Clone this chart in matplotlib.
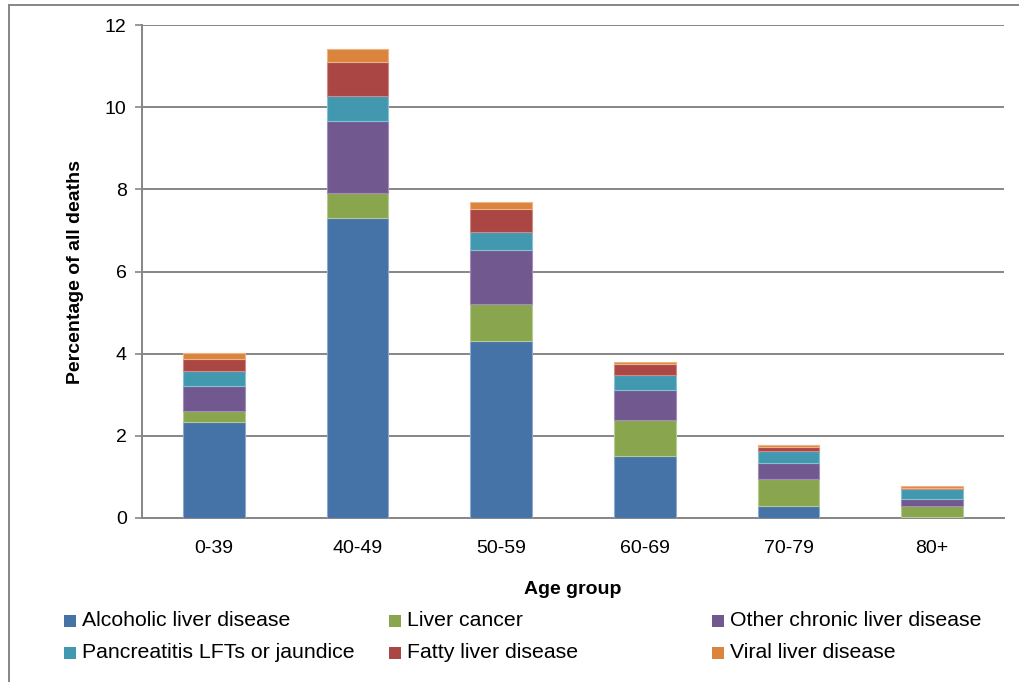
import matplotlib
matplotlib.use("Agg")
import matplotlib.pyplot as plt
from matplotlib.lines import Line2D
from matplotlib.patches import Rectangle
import numpy as np

plt.rcParams['font.family'] = ['Liberation Sans', 'DejaVu Sans']

categories = ["0-39", "40-49", "50-59", "60-69", "70-79", "80+"]
series_names = ["Alcoholic liver disease", "Liver cancer", "Other chronic liver disease",
                "Pancreatitis LFTs or jaundice", "Fatty liver disease", "Viral liver disease"]
alcoholic = [2.34, 7.30, 4.31, 1.52, 0.28, 0.02]
liver_cancer = [0.26, 0.61, 0.90, 0.87, 0.67, 0.27]
other_chronic = [0.62, 1.75, 1.31, 0.73, 0.39, 0.17]
pancreatitis = [0.35, 0.62, 0.43, 0.37, 0.30, 0.25]
fatty = [0.31, 0.83, 0.56, 0.27, 0.10, 0.03]
viral = [0.13, 0.31, 0.18, 0.04, 0.04, 0.04]
series = [alcoholic, liver_cancer, other_chronic, pancreatitis, fatty, viral]
colors = ["#4572A7", "#89A54E", "#71588F", "#4198AF", "#AA4643", "#DB843D"]
edges = ["#8EA8CE", "#B5CB92", "#A18FBA", "#86C2D2", "#D08A88", "#EDB487"]
yticks = [0, 2, 4, 6, 8, 10, 12]

W, H = 1019, 682
fig = plt.figure(figsize=(W/100, H/100), dpi=100)
ax = fig.add_axes([142/W, 1-518/H, (1004-142)/W, (518-25)/H])

x = np.arange(len(categories))
bottom = np.zeros(len(categories))
for vals, c, ec, name in zip(series, colors, edges, series_names):
    ax.bar(x, vals, width=0.43, bottom=bottom, color=c, edgecolor=ec, linewidth=0.8,
           label=name, zorder=3)
    bottom += np.array(vals)

ax.set_xlim(-0.5, len(categories) - 0.5)
ax.set_ylim(0, 12)
ax.set_yticks(yticks)
ax.set_yticklabels([str(t) for t in yticks], fontsize=14)
ax.set_xticks(x)
ax.set_xticklabels(categories, fontsize=14)
ax.tick_params(axis='x', length=0, pad=16)
ax.tick_params(axis='y', length=5, width=1.2, color='#868686', pad=6)
ax.grid(axis='y', color='#868686', linewidth=1.4, zorder=0)
for s in ['top', 'right']:
    ax.spines[s].set_visible(False)
for s in ['left', 'bottom']:
    ax.spines[s].set_color('#868686')
    ax.spines[s].set_linewidth(1.4)

ax.set_ylabel("Percentage of all deaths", fontsize=14, fontweight='bold', labelpad=15)
ax.set_xlabel("Age group", fontsize=14, fontweight='bold', labelpad=17)

# legend laid out row-major, 3 equal-width columns
col_x = [64, 389, 712]
row_y = [621, 653]
for i, (name, c) in enumerate(zip(series_names, colors)):
    r, k = divmod(i, 3)
    px, py = col_x[k], row_y[r]
    fig.add_artist(Rectangle((px/W, 1-(py+6)/H), 12/W, 12/H, transform=fig.transFigure,
                             facecolor=c, edgecolor='none'))
    fig.text((px+18)/W, 1-py/H, name, fontsize=15.3, va='center', ha='left')

# outer chart-area border (cropped)
fig.add_artist(Line2D([9/W, 9/W], [0, 1-5/H], color='#868686', linewidth=1.4))
fig.add_artist(Line2D([9/W, 1], [1-5/H, 1-5/H], color='#868686', linewidth=1.4))

fig.savefig("out.png", dpi=100)
